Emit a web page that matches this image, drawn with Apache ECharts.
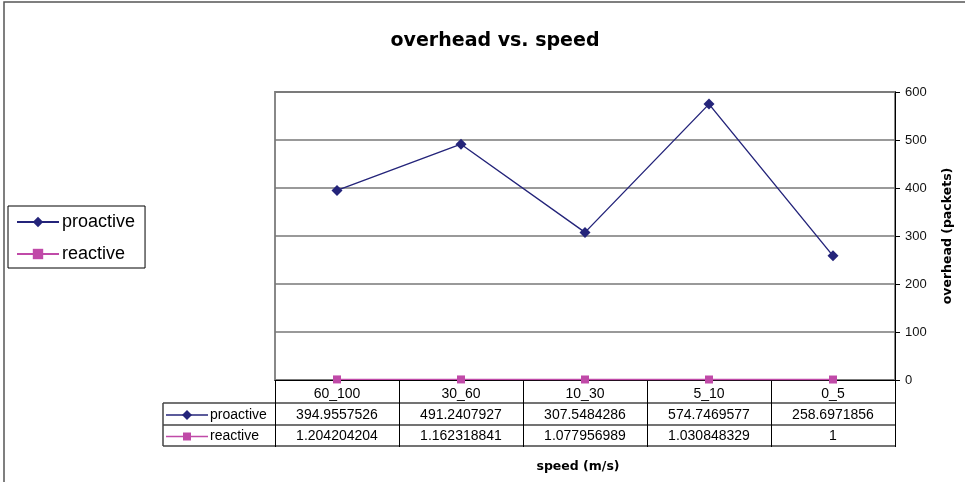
<!DOCTYPE html>
<html><head><meta charset="utf-8">
<script src="https://cdn.jsdelivr.net/npm/echarts@6/dist/echarts.min.js"></script>
<style>html,body{margin:0;padding:0;background:#fff}#c{width:965px;height:482px}</style>
</head><body><div id="c"></div>
<script>
var categories = ['60_100', '30_60', '10_30', '5_10', '0_5'];
var proactive = [394.9557526, 491.2407927, 307.5484286, 574.7469577, 258.6971856];
var reactive = [1.204204204, 1.162318841, 1.077956989, 1.030848329, 1];
var proactiveText = ['394.9557526', '491.2407927', '307.5484286', '574.7469577', '258.6971856'];
var reactiveText = ['1.204204204', '1.162318841', '1.077956989', '1.030848329', '1'];
var yTicks = [0, 100, 200, 300, 400, 500, 600];

var FONT = 'Liberation Sans, Arial, sans-serif';
var BFONT = 'DejaVu Sans, Verdana, sans-serif';
var NAVY = '#24247a', MAG = '#c04aa8';
var chart = echarts.init(document.getElementById('c'), null, {renderer: 'canvas'});
var option = {
  animation: false,
  backgroundColor: '#fff',
  title: {text: 'overhead vs. speed', left: 490, top: 27, textAlign: 'center',
    textStyle: {fontFamily: BFONT, fontSize: 19, fontWeight: 'bold', color: '#000'}},
  legend: {orient: 'vertical', left: 8, top: 206, width: 135, itemWidth: 42, itemHeight: 13, itemGap: 14,
    padding: [7, 10, 5, 8], borderColor: '#000', borderWidth: 1,
    textStyle: {fontFamily: FONT, fontSize: 18, color: '#000', padding: [0, 0, 0, -2]},
    data: ['proactive', 'reactive']},
  grid: {left: 275, right: 70, top: 92, bottom: 102, show: true, borderColor: '#888', borderWidth: 2},
  xAxis: {type: 'category', data: categories, boundaryGap: true,
    axisLine: {lineStyle: {color: '#000', width: 1}},
    axisTick: {show: true, length: 67, lineStyle: {color: '#000', width: 1}},
    axisLabel: {margin: 7, fontFamily: FONT, fontSize: 14, color: '#000'},
    name: 'speed (m/s)', nameLocation: 'middle', nameGap: 80,
    nameTextStyle: {fontFamily: BFONT, fontSize: 12.5, fontWeight: 'bold', color: '#000', padding: [0, 0, 0, -14]}},
  yAxis: {type: 'value', position: 'right', min: yTicks[0], max: yTicks[yTicks.length - 1], interval: 100,
    axisLine: {show: true, lineStyle: {color: '#000', width: 1}},
    axisTick: {show: true, length: 5, lineStyle: {color: '#000'}},
    axisLabel: {margin: 10, fontFamily: FONT, fontSize: 13, color: '#111'},
    splitLine: {show: true, lineStyle: {color: '#777', width: 1.5}},
    name: 'overhead (packets)', nameLocation: 'middle', nameGap: 46, nameRotate: 90,
    nameTextStyle: {fontFamily: BFONT, fontSize: 12.5, fontWeight: 'bold', color: '#000'}},
  series: [
    {name: 'proactive', type: 'line', data: proactive, symbol: 'diamond', symbolSize: 11,
      lineStyle: {color: NAVY, width: 1.4}, itemStyle: {color: NAVY}},
    {name: 'reactive', type: 'line', data: reactive, symbol: 'rect', symbolSize: 8,
      lineStyle: {color: MAG, width: 1.3}, itemStyle: {color: MAG}}
  ]
};
chart.setOption(option);

var g = [];
g.push({type: 'rect', shape: {x: 4, y: 2, width: 1000, height: 1000}, style: {fill: 'none', stroke: '#555', lineWidth: 1.5}, silent: true});
var left = 163, right = 895;
var yA = 403, yB = 425, yC = 446;
function hline(y, x1) { g.push({type: 'line', shape: {x1: x1, y1: y, x2: right, y2: y}, style: {stroke: '#444', lineWidth: 1.5}}); }
hline(yA, left); hline(yB, left); hline(yC, left);
g.push({type: 'line', shape: {x1: left, y1: yA, x2: left, y2: yC}, style: {stroke: '#444', lineWidth: 1.5}});
for (var i = 0; i < categories.length; i++) {
  var x = chart.convertToPixel({xAxisIndex: 0}, categories[i]);
  g.push({type: 'text', x: x, y: (yA + yB) / 2 + 1, style: {text: proactiveText[i], align: 'center', verticalAlign: 'middle', font: '14px ' + FONT, fill: '#000'}});
  g.push({type: 'text', x: x, y: (yB + yC) / 2 + 1, style: {text: reactiveText[i], align: 'center', verticalAlign: 'middle', font: '14px ' + FONT, fill: '#000'}});
}
var ky1 = (yA + yB) / 2 + 1, ky2 = (yB + yC) / 2 + 1;
g.push({type: 'line', shape: {x1: 166, y1: ky1, x2: 208, y2: ky1}, style: {stroke: NAVY, lineWidth: 1.3}});
g.push({type: 'polygon', shape: {points: [[187, ky1 - 5], [192, ky1], [187, ky1 + 5], [182, ky1]]}, style: {fill: NAVY}});
g.push({type: 'text', x: 210, y: ky1, style: {text: 'proactive', verticalAlign: 'middle', font: '14px ' + FONT, fill: '#000'}});
g.push({type: 'line', shape: {x1: 166, y1: ky2, x2: 208, y2: ky2}, style: {stroke: MAG, lineWidth: 1.3}});
g.push({type: 'rect', shape: {x: 183, y: ky2 - 4, width: 8, height: 8}, style: {fill: MAG}});
g.push({type: 'text', x: 210, y: ky2, style: {text: 'reactive', verticalAlign: 'middle', font: '14px ' + FONT, fill: '#000'}});
chart.setOption({graphic: g});
</script></body></html>
